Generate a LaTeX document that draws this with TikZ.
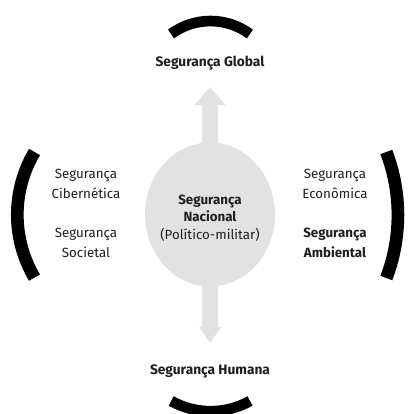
\documentclass[tikz,border=0pt]{standalone}
\usepackage{fontspec}
\setmainfont{Fira Sans}
\usetikzlibrary{arrows.meta}
\usetikzlibrary{shapes.geometric}
\definecolor{cinza}{RGB}{226,226,226}
\definecolor{texto}{RGB}{30,30,30}

\begin{document}
\begin{tikzpicture}[x=0.75pt,y=-0.75pt]
    \tikzset{rotulo/.style = {shape=rectangle,draw=none,align=center,text=texto,inner sep=0pt,font=\fontsize{10}{15.5}\selectfont}}
    \tikzset{titulo/.style = {rotulo,font=\fontsize{10.3}{13}\selectfont\bfseries}}
    \tikzset{nucleo/.style = {shape=ellipse,fill=cinza,minimum width=97.5pt,minimum height=108pt,inner sep=0pt}}
    \tikzset{seta/.style = {draw=cinza,line width=12pt}}
    \tikzset{arco/.style = {draw=black,line width=9.5pt}}
    \tikzset{arco2/.style = {draw=black,line width=8pt}}

    \useasboundingbox (0,0) rectangle (410,414);

    % setas
    \coordinate (cima) at (210,87);
    \coordinate (baixo) at (210,343);
    \coordinate (centro) at (210,214.5);
    \draw[seta,-{Triangle[width=22.5pt,length=13.5pt]}] (centro) -- (cima);
    \draw[seta,-{Triangle[width=15.75pt,length=12pt]}] (centro) -- (baixo);

    % circulo
    \node[nucleo] (circ) at (centro) {};
    \node[rotulo,font=\fontsize{10}{13.2}\selectfont] (nac) at (210,218) {\textbf{Segurança}\\\textbf{Nacional}\\(Político-militar)};

    % rotulos
    \node[titulo] (global) at (210,63) {Segurança Global};
    \node[titulo] (humana) at (210,371) {Segurança Humana};
    \node[rotulo] (ciber) at (86,184) {Segurança\\Cibernética};
    \node[rotulo] (soc) at (86,243) {Segurança\\Societal};
    \node[rotulo] (eco) at (335,184) {Segurança\\Econômica};
    \node[rotulo,font=\fontsize{10}{15.5}\selectfont\bfseries] (amb) at (335,243) {Segurança\\Ambiental};

    % arcos
    \draw[arco] (34.5,152) arc (210.6:149.4:123.4);
    \draw[arco] (386.3,152) arc (-20.9:20.9:176.7);
    \draw[arco2] (171,34) arc (-126.4:-53.6:66.5);
    \draw[arco2] (250,401) arc (60.9:119.1:81);
\end{tikzpicture}
\end{document}
